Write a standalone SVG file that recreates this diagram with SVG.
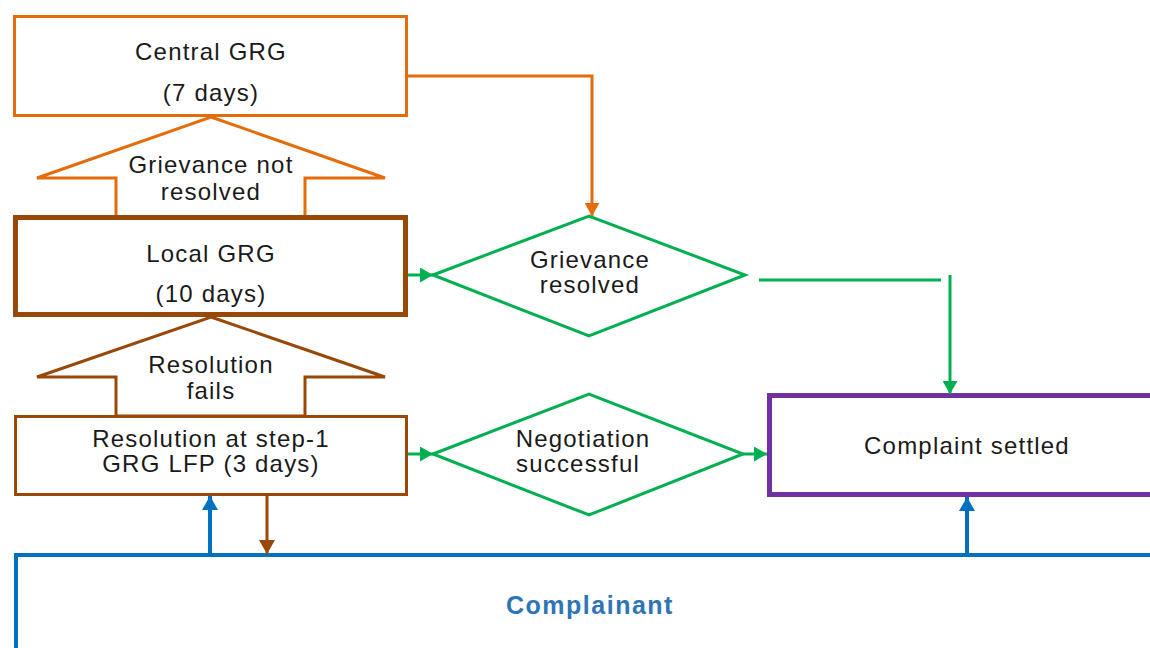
<svg xmlns="http://www.w3.org/2000/svg" width="1150" height="648" viewBox="0 0 1150 648">
<style>
.t{font-family:"Liberation Sans",Arial,sans-serif;font-size:24px;fill:#1a1a1a;text-anchor:middle;letter-spacing:1.2px}
.c{font-family:"Liberation Sans",Arial,sans-serif;font-size:25px;font-weight:bold;fill:#2E75B6;text-anchor:middle;letter-spacing:1.5px}
.box{fill:#fff}
.g{stroke:#00B050;stroke-width:3;fill:none}
</style>
<defs>
<marker id="aO" markerUnits="userSpaceOnUse" markerWidth="15" markerHeight="15" refX="13" refY="7.5" orient="auto"><path d="M0,0 L13,7.5 L0,15 z" fill="#E46C0A"/></marker>
<marker id="aG" markerUnits="userSpaceOnUse" markerWidth="15" markerHeight="15" refX="13" refY="7.5" orient="auto"><path d="M0,0 L13,7.5 L0,15 z" fill="#00B050"/></marker>
<marker id="aB" markerUnits="userSpaceOnUse" markerWidth="16" markerHeight="16" refX="14" refY="8" orient="auto"><path d="M0,0 L14,8 L0,16 z" fill="#0070C0"/></marker>
<marker id="aR" markerUnits="userSpaceOnUse" markerWidth="16" markerHeight="16" refX="14" refY="8" orient="auto"><path d="M0,0 L14,8 L0,16 z" fill="#984807"/></marker>
</defs>
<rect width="1150" height="648" fill="#fff"/>

<g id="complainant">
<rect x="16" y="555" width="1150" height="200" class="box" stroke="#0070C0" stroke-width="4"/>
<text class="c" x="590" y="614">Complainant</text>
</g>

<g id="arrow-not-resolved">
<polygon points="211,117 385,178 305,178 305,217 116,217 116,178 37,178" class="box" stroke="#E46C0A" stroke-width="3"/>
<text class="t" x="211" y="173">Grievance not</text>
<text class="t" x="211" y="200">resolved</text>
</g>

<g id="arrow-fails">
<polygon points="211,317 385,377 305,377 305,416 116,416 116,377 37,377" class="box" stroke="#984807" stroke-width="3"/>
<text class="t" x="211" y="373">Resolution</text>
<text class="t" x="211" y="399">fails</text>
</g>

<g id="central-grg">
<rect x="14.5" y="16.5" width="392" height="99" class="box" stroke="#E46C0A" stroke-width="3"/>
<text class="t" x="211" y="60">Central GRG</text>
<text class="t" x="211" y="101">(7 days)</text>
</g>

<g id="local-grg">
<rect x="15.5" y="217.5" width="390" height="97" class="box" stroke="#984807" stroke-width="5"/>
<text class="t" x="211" y="262">Local GRG</text>
<text class="t" x="211" y="302">(10 days)</text>
</g>

<g id="step1">
<rect x="15.5" y="416.5" width="391" height="78" class="box" stroke="#984807" stroke-width="3"/>
<text class="t" x="211" y="447">Resolution at step-1</text>
<text class="t" x="211" y="472">GRG LFP (3 days)</text>
</g>

<g id="grievance-resolved">
<polygon points="433,275 589,216 745,275 589,336" class="box g"/>
<text class="t" x="590" y="268">Grievance</text>
<text class="t" x="590" y="293">resolved</text>
</g>

<g id="negotiation">
<polygon points="433,454 589,394 743,454 589,515" class="box g"/>
<text class="t" x="583" y="447">Negotiation</text>
<text class="t" x="578" y="472">successful</text>
</g>

<g id="complaint-settled">
<rect x="769.5" y="395.5" width="400" height="99" class="box" stroke="#7030A0" stroke-width="5"/>
<text class="t" x="967" y="454">Complaint settled</text>
</g>

<g id="connectors">
<polyline points="408,76 592,76 592,216" fill="none" stroke="#E46C0A" stroke-width="3" marker-end="url(#aO)"/>
<line x1="408" y1="275" x2="433" y2="275" class="g" marker-end="url(#aG)"/>
<line x1="759" y1="280" x2="941" y2="280" class="g"/>
<line x1="950" y1="275" x2="950" y2="394" class="g" marker-end="url(#aG)"/>
<line x1="408" y1="454" x2="433" y2="454" class="g" marker-end="url(#aG)"/>
<line x1="743" y1="454" x2="767" y2="454" class="g" marker-end="url(#aG)"/>
<line x1="210" y1="555" x2="210" y2="496" stroke="#0070C0" stroke-width="4" marker-end="url(#aB)"/>
<line x1="967" y1="555" x2="967" y2="497" stroke="#0070C0" stroke-width="4" marker-end="url(#aB)"/>
<line x1="267" y1="495" x2="267" y2="554" stroke="#984807" stroke-width="3" marker-end="url(#aR)"/>
</g>
</svg>
